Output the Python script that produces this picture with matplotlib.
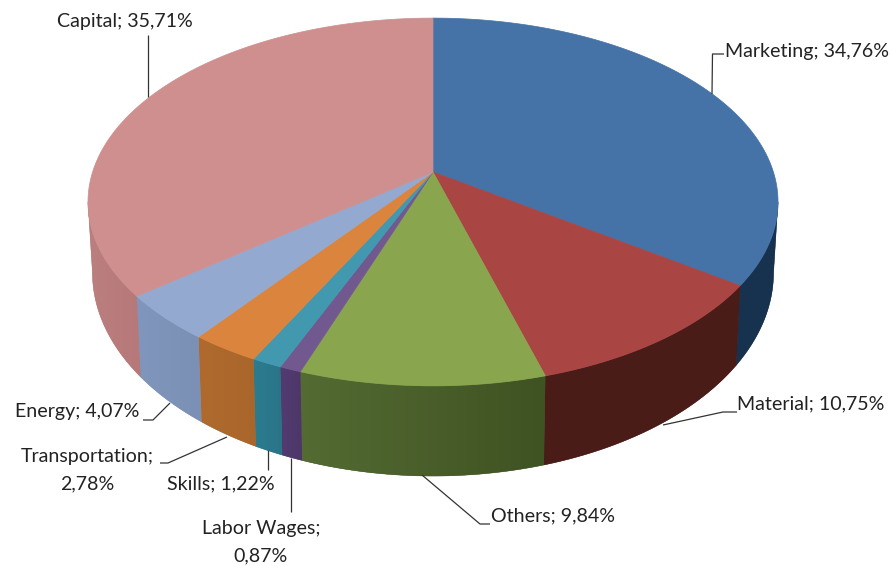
import numpy as np
import matplotlib
matplotlib.use("Agg")
import matplotlib.pyplot as plt
from matplotlib.colors import LinearSegmentedColormap
from matplotlib.patches import Polygon

# Cost shares, clockwise from twelve o'clock
categories = ["Marketing", "Material", "Others", "Labor Wages", "Skills",
              "Transportation", "Energy", "Capital"]
shares = [34.76, 10.75, 9.84, 0.87, 1.22, 2.78, 4.07, 35.71]

top_colors = ["#4572A7", "#A94543", "#89A54E", "#71588F", "#4198AF",
              "#DB843D", "#93A9CF", "#CE8F8E"]
wall_left = ["#17324F", "#4A1C18", "#546B33", "#523B70", "#2B7C8F",
             "#B06A2E", "#8096BC", "#BC7F7F"]
wall_right = ["#17324F", "#4A1C18", "#3F5222", "#4D376A", "#2A7488",
              "#A9662B", "#7B90B4", "#B67878"]

# Perspective of the disc, in figure pixels
CX = 433.0
TOP = dict(y0=172.0, a=340.4, b=179.0, k=0.163)
BOTTOM = dict(y0=239.5, a=336.0, b=198.0, k=0.163)
# Rim angles where the side wall turns away from the viewer (cos = -k)
WALL_FROM, WALL_TO = 99.4, 260.6


def rim(theta_deg, plane):
    """Project points of the circular rim, angle measured clockwise from the back."""
    t = np.radians(theta_deg)
    x, y = np.sin(t), np.cos(t)
    w = 1 + plane["k"] * y
    return CX + plane["a"] * x / w, plane["y0"] - plane["b"] * y / w


fig = plt.figure(figsize=(8.93, 5.66), dpi=100)
ax = fig.add_axes([0, 0, 1, 1])
ax.axis("off")

edges = np.concatenate([[0], np.cumsum(shares)]) / sum(shares) * 360
ramp = np.linspace(0, 1, 256).reshape(1, -1)

# Side walls, each with a soft left-to-right gradient clipped to its outline
for i in range(len(shares)):
    start, stop = max(edges[i], WALL_FROM), min(edges[i + 1], WALL_TO)
    arc = np.linspace(start, stop, 80)
    xt, yt = rim(arc, TOP)
    xb, yb = rim(arc, BOTTOM)
    outline = Polygon(np.column_stack([np.r_[xt, xb[::-1]], np.r_[yt, yb[::-1]]]),
                      closed=True, facecolor=wall_right[i], edgecolor=wall_right[i],
                      lw=0.3, zorder=2)
    ax.add_patch(outline)
    cmap = LinearSegmentedColormap.from_list("wall", [wall_left[i], wall_right[i]])
    x0, x1 = min(xt.min(), xb.min()), max(xt.max(), xb.max())
    y0, y1 = min(yt.min(), yb.min()), max(yt.max(), yb.max())
    img = ax.imshow(ramp, cmap=cmap, extent=(x0, x1, y1, y0), aspect="auto",
                    zorder=2.1, interpolation="bilinear")
    img.set_clip_path(outline)

# Top face of the pie
for i in range(len(shares)):
    arc = np.linspace(edges[i], edges[i + 1], max(int(edges[i + 1] - edges[i]) * 2, 4))
    xt, yt = rim(arc, TOP)
    verts = np.column_stack([np.r_[CX, xt], np.r_[TOP["y0"], yt]])
    ax.add_patch(Polygon(verts, closed=True, facecolor=top_colors[i],
                         edgecolor=top_colors[i], lw=0.5, zorder=3))

# Leader lines from slices to their labels
leaders = [
    ([712, 712.5, 724], [94, 54, 54]),
    ([663, 723, 737], [425, 412, 412]),
    ([422, 480, 490], [475, 524, 524]),
    ([291, 291], [458, 512]),
    ([268, 268], [450, 470]),
    ([227, 168, 160], [437, 463, 463]),
    ([170, 153, 143], [403, 420, 420]),
    ([148, 148], [97, 35]),
]
for xs, ys in leaders:
    ax.plot(xs, ys, color="#333333", lw=0.9, zorder=4, solid_capstyle="butt")

# Label anchors: x, y, horizontal alignment, line break after the name
anchors = [
    (725, 51, "left", False),
    (737, 404, "left", False),
    (491, 516, "left", False),
    (261, 542, "center", True),
    (221, 484, "center", False),
    (87, 470, "center", True),
    (15, 412, "left", False),
    (125, 22, "center", False),
]
for name, value, (x, y, ha, wrap) in zip(categories, shares, anchors):
    number = f"{value:.2f}".replace(".", ",") + "%"
    label = f"{name};{chr(10) if wrap else ' '}{number}"
    ax.text(x, y, label, ha=ha, va="center", family="Lato", fontsize=14.1,
            color="#222222", linespacing=1.75, zorder=5)

ax.set_xlim(0, 893)
ax.set_ylim(566, 0)
fig.savefig("out.png", dpi=100, facecolor="white")
